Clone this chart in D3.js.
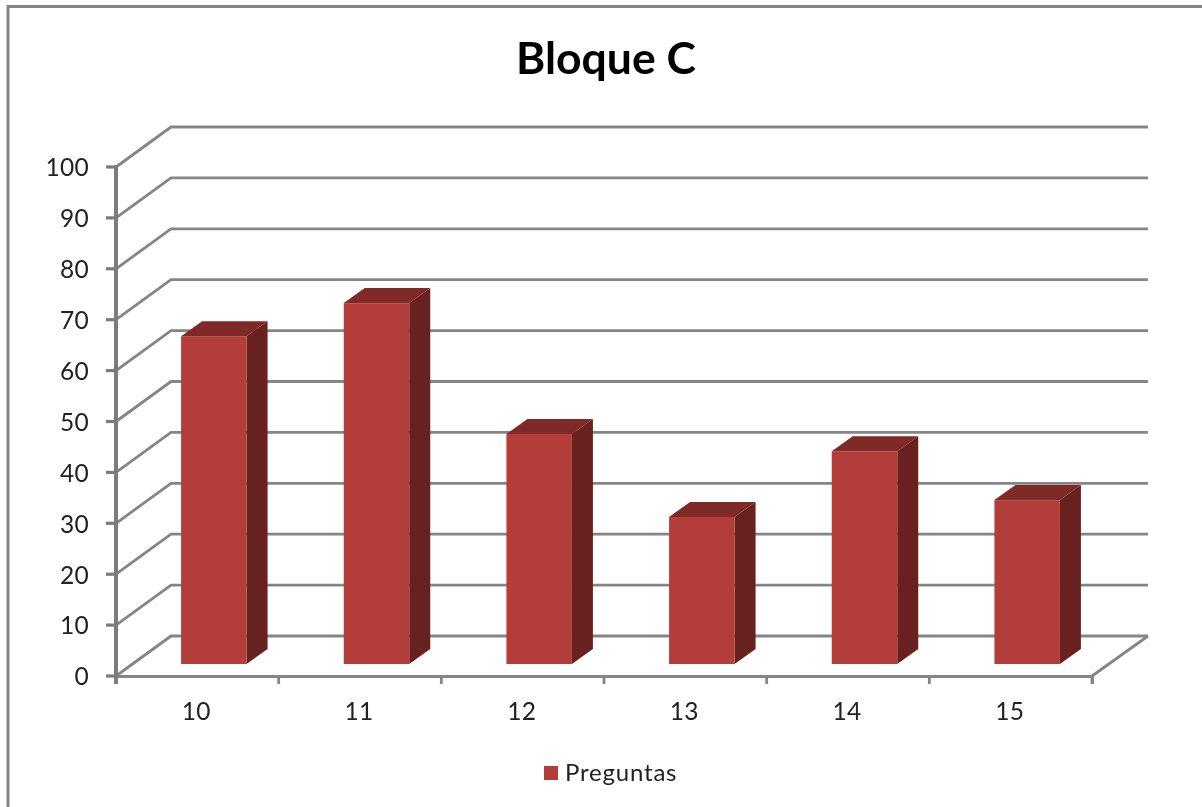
<!DOCTYPE html>
<html>
<head>
<meta charset="utf-8">
<script src="https://cdn.jsdelivr.net/npm/d3@7"></script>
<style>
  html, body { margin: 0; padding: 0; background: #fff; }
  svg { display: block; filter: blur(0.7px); }
  text { font-family: Lato, "Open Sans", sans-serif; fill: #222; }
</style>
</head>
<body>
<div id="chart"></div>
<script>
const title = 'Bloque C';
const seriesName = 'Preguntas';
const categories = ['10', '11', '12', '13', '14', '15'];
const preguntas = [64.4, 70.9, 45.2, 28.9, 41.8, 32.2];
const yTicks = [0, 10, 20, 30, 40, 50, 60, 70, 80, 90, 100];

const width = 1202, height = 807;
const margin = { left: 116, right: 1092, top: 167, bottom: 676 };
const depth = { x: 55, y: -40 };
const grey = '#858585';

const svg = d3.select('#chart').append('svg').attr('width', width).attr('height', height);

// chart frame, only top and left are inside the picture
svg.append('path')
    .attr('d', d3.line()([[8, height], [8, 6.5], [width, 6.5]]))
    .attr('fill', 'none')
    .attr('stroke', grey)
    .attr('stroke-width', 3);

const x = d3.scaleBand().domain(categories).range([margin.left, margin.right]);
const y = d3.scaleLinear().domain([0, 100]).range([margin.bottom, margin.top]);

svg.append('text')
    .attr('x', 606)
    .attr('y', 74)
    .attr('text-anchor', 'middle')
    .attr('font-size', 44.5)
    .attr('font-weight', 700)
    .style('fill', '#000')
    .text(title);

// walls: one gridline per tick, running from the axis back and then along the wall
const grid = svg.append('g').attr('fill', 'none').attr('stroke', grey).attr('stroke-width', 2.8);
yTicks.forEach(t => {
    grid.append('path').attr('d', d3.line()([
        [margin.left, y(t)],
        [margin.left + depth.x, y(t) + depth.y],
        [1148, y(t) + depth.y]
    ]));
});
// floor edge on the right
grid.append('path').attr('d', d3.line()([
    [margin.right, y(0)],
    [1148, y(0) + depth.y]
]));

// axes, the value axis line and its ticks are plain rects
const yAxis = d3.axisLeft(y).tickValues(yTicks).tickSize(0).tickPadding(6);
const gy = svg.append('g').attr('transform', `translate(${margin.left},0)`).call(yAxis);
const xAxis = d3.axisBottom(x).tickSize(8).tickSizeOuter(8);
const gx = svg.append('g').attr('transform', `translate(0,${margin.bottom})`).call(xAxis);
gx.selectAll('.tick line').attr('transform', `translate(${x.bandwidth() / 2},0)`);
gx.selectAll('.tick text').attr('dy', 0).attr('y', 44).attr('x', -1);
[gy, gx].forEach(g => {
    g.selectAll('path, line').attr('stroke', grey).attr('stroke-width', 2.8);
    g.selectAll('path').attr('fill', 'none');
    g.selectAll('text').attr('font-size', 24.5).attr('font-family', null).style('fill', '#222').style('letter-spacing', '0.3px');
});
gy.select('.domain').remove();
gy.selectAll('.tick text').attr('dy', '0.32em').attr('x', -27).attr('y', 1);

const axisMarks = svg.append('g').attr('fill', '#7c7c7c');
axisMarks.append('rect')
    .attr('x', margin.left - 2)
    .attr('y', y(100) - 2)
    .attr('width', 4)
    .attr('height', y(0) + 10 - y(100));
yTicks.forEach(t => {
    axisMarks.append('rect')
        .attr('x', margin.left - 10)
        .attr('y', y(t) - 1.6)
        .attr('width', 10)
        .attr('height', 3.2);
});

// bars sit 30% of the way into the floor depth
const barInset = 0.3;
const barDepth = { x: 21, y: -15 };
const barWidth = 65.5;
const bars = svg.append('g');
categories.forEach((c, i) => {
    const h = y(0) - y(preguntas[i]);
    const x0 = x(c) + x.bandwidth() / 2 + depth.x * barInset - barWidth / 2;
    const x1 = x0 + barWidth;
    const yBase = y(0) + depth.y * barInset;
    const yTop = yBase - h;
    bars.append('path')
        .attr('fill', '#7f2a27')
        .attr('d', d3.line()([[x0, yTop], [x0 + barDepth.x, yTop + barDepth.y], [x1 + barDepth.x, yTop + barDepth.y], [x1, yTop]]) + 'Z');
    bars.append('path')
        .attr('fill', '#692120')
        .attr('d', d3.line()([[x1, yTop], [x1 + barDepth.x, yTop + barDepth.y], [x1 + barDepth.x, yBase + barDepth.y], [x1, yBase]]) + 'Z');
    bars.append('rect')
        .attr('x', x0)
        .attr('y', yTop)
        .attr('width', barWidth)
        .attr('height', h)
        .attr('fill', '#b33d39');
});

// legend
const legend = svg.append('g');
legend.append('rect').attr('x', 544).attr('y', 766).attr('width', 14).attr('height', 14).attr('fill', '#b33d39');
legend.append('text').attr('x', 565).attr('y', 781).attr('font-size', 24).style('letter-spacing', '0.8px').text(seriesName);
</script>
</body>
</html>
